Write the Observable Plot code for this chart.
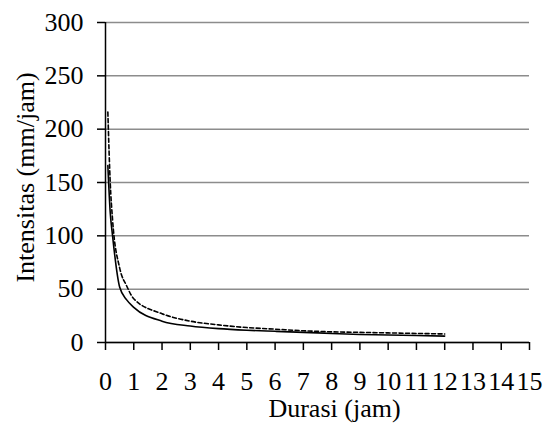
<!DOCTYPE html>
<html><head><meta charset="utf-8">
<script src="https://cdn.jsdelivr.net/npm/d3@7"></script>
<script src="https://cdn.jsdelivr.net/npm/@observablehq/plot@0.6"></script>
<style>body{margin:0;background:#fff}</style>
</head><body><div id="chart"></div>
<script>
const durations    = [0.083, 0.167, 0.25, 0.5, 0.75, 1, 2, 3, 4, 5, 6, 7, 8, 9, 10, 11, 12];
const solidValues  = [166, 122, 100, 52, 40, 33, 20, 15.5, 13, 11.5, 10.5, 9.5, 8.5, 7.5, 7, 6.5, 6];
const dashedValues = [216, 150, 115, 70, 53, 41, 27, 20, 16.5, 14, 12.5, 11, 10, 9.5, 9, 8.5, 8];
const xTicks = [0,1,2,3,4,5,6,7,8,9,10,11,12,13,14,15];
const yTicks = [0,50,100,150,200,250,300];
const xLabel = "Durasi (jam)";
const yLabel = "Intensitas (mm/jam)";

const solid = durations.map((t, i) => ({t, v: solidValues[i]}));
const dashed = durations.map((t, i) => ({t, v: dashedValues[i]}));

const chart = Plot.plot({
  width: 552,
  height: 428,
  marginLeft: 105,
  marginRight: 23,
  marginTop: 22,
  marginBottom: 86,
  style: {fontFamily: "Liberation Serif", fontSize: "26px", background: "#fff", color: "#000"},
  x: {domain: [0, 15]},
  y: {domain: [0, 300]},
  marks: [
    Plot.gridY(yTicks, {stroke: "#8c8c8c", strokeOpacity: 1, strokeWidth: 1.5}),
    Plot.axisY({ticks: yTicks, tickSize: 8, tickPadding: 14, label: null, strokeWidth: 1.5}),
    Plot.axisX({ticks: xTicks, tickSize: 8, tickPadding: 21, label: null, strokeWidth: 1.5}),
    Plot.ruleX([0], {stroke: "#000", strokeWidth: 1.5}),
    Plot.ruleY([0], {stroke: "#000", strokeWidth: 1.5}),
    Plot.line(dashed, {x: "t", y: "v", stroke: "#000", strokeWidth: 1.6, strokeDasharray: "4,2.5", curve: "monotone-x"}),
    Plot.line(solid, {x: "t", y: "v", stroke: "#000", strokeWidth: 1.6, curve: "monotone-x"}),
    Plot.text([xLabel], {frameAnchor: "bottom", text: d => d, dx: 17, dy: 66, textAnchor: "middle", lineAnchor: "middle", fontSize: 26, fill: "#000"}),
    Plot.text([yLabel], {frameAnchor: "left", text: d => d, dx: -80, dy: -5, rotate: -90, textAnchor: "middle", lineAnchor: "middle", fontSize: 26, fill: "#000"})
  ]
});
document.getElementById("chart").appendChild(chart);
</script>
</body></html>
